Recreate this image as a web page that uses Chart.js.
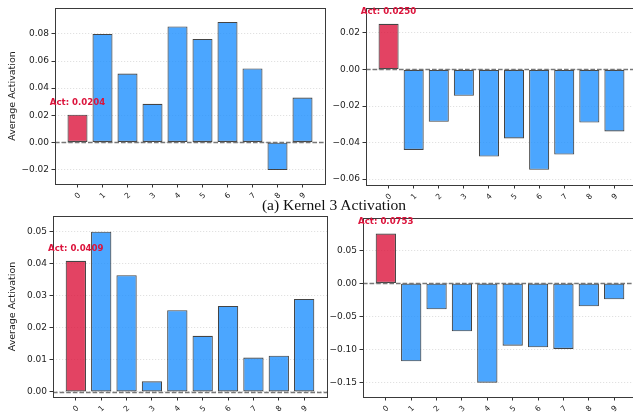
<!DOCTYPE html>
<html>
<head>
<meta charset="utf-8">
<script src="https://cdn.jsdelivr.net/npm/chart.js@4/dist/chart.umd.min.js"></script>
<style>
  html, body { margin: 0; padding: 0; background: #fff; overflow: hidden; width: 633px; height: 412px; }
  body { position: relative; }
  .panel { position: absolute; }
  .panel canvas { display: block; }
  #caption {
    position: absolute; left: 184px; width: 300px; top: 197px;
    text-align: center; font-family: 'Liberation Serif', 'Times New Roman', serif;
    font-size: 15.6px; line-height: 16px; color: #111; white-space: nowrap; z-index: 5;
  }
</style>
</head>
<body>
<div class="panel" style="left:0;top:0"><canvas id="kTopLeft" width="330" height="200"></canvas></div>
<div class="panel" style="left:310px;top:0"><canvas id="kTopRight" width="330" height="200"></canvas></div>
<div class="panel" style="left:0;top:206px"><canvas id="kBottomLeft" width="330" height="206"></canvas></div>
<div class="panel" style="left:310px;top:206px"><canvas id="kBottomRight" width="330" height="206"></canvas></div>
<div id="caption">(a) Kernel 3 Activation</div>
<script>
// Digit classes on the x axis
const digits = [0, 1, 2, 3, 4, 5, 6, 7, 8, 9];
const digitLabels = ['0', '1', '2', '3', '4', '5', '6', '7', '8', '9'];
// Class whose activation is highlighted and annotated
const targetIndex = 0;

// Average activation per digit, one array per panel
const actTopLeft     = [0.0204, 0.0800, 0.0508, 0.0284, 0.0856, 0.0763, 0.0889, 0.0545, -0.0205, 0.0330];
const actTopRight    = [0.0250, -0.0440, -0.0286, -0.0144, -0.0476, -0.0377, -0.0549, -0.0465, -0.0290, -0.0339];
const actBottomLeft  = [0.0409, 0.0500, 0.0364, 0.0033, 0.0255, 0.0175, 0.0268, 0.0107, 0.0113, 0.0290];
const actBottomRight = [0.0753, -0.1182, -0.0394, -0.0727, -0.1506, -0.0945, -0.0970, -0.0995, -0.0348, -0.0242];

// Y tick values and y limits per panel
const yTicksTopLeft     = [-0.02, 0.00, 0.02, 0.04, 0.06, 0.08];
const yTicksTopRight    = [-0.06, -0.04, -0.02, 0.00, 0.02];
const yTicksBottomLeft  = [0.00, 0.01, 0.02, 0.03, 0.04, 0.05];
const yTicksBottomRight = [-0.15, -0.10, -0.05, 0.00, 0.05];
const yRangeTopLeft     = [-0.0308, 0.0992];
const yRangeTopRight    = [-0.0632, 0.0337];
const yRangeBottomLeft  = [-0.0016, 0.0549];
const yRangeBottomRight = [-0.1723, 0.0989];
const xRange = [-0.9, 9.9];

const FONT = "'DejaVu Sans', 'Liberation Sans', sans-serif";
const RED = 'rgba(220, 20, 60, 0.8)';
const BLUE = 'rgba(30, 144, 255, 0.8)';

const fmtTick = v => v.toFixed(2).replace('-', '\u2212');

// Frame, dashed zero line and value annotation over the highlighted bar
const decorPlugin = {
  id: 'decor',
  afterDatasetsDraw(chart) {
    const { ctx, chartArea: a, scales: { y } } = chart;
    const y0 = Math.round(y.getPixelForValue(0)) + 0.5;
    ctx.save();
    ctx.strokeStyle = 'rgba(105, 105, 105, 0.9)';
    ctx.lineWidth = 1.3;
    ctx.setLineDash([4.6, 2]);
    ctx.beginPath();
    ctx.moveTo(a.left, y0);
    ctx.lineTo(a.right, y0);
    ctx.stroke();
    ctx.setLineDash([]);
    ctx.strokeStyle = '#3a3a3a';
    ctx.lineWidth = 1;
    ctx.strokeRect(Math.round(a.left) + 0.5, Math.round(a.top) + 0.5,
                   Math.round(a.right - a.left), Math.round(a.bottom - a.top));
    const el = chart.getDatasetMeta(0).data[targetIndex];
    const v = chart.data.datasets[0].data[targetIndex].y;
    ctx.fillStyle = '#DC143C';
    ctx.font = 'bold 8.6px ' + FONT;
    ctx.textAlign = 'center';
    ctx.textBaseline = 'middle';
    ctx.fillText('Act: ' + v.toFixed(4), el.x, el.y - 12);
    ctx.restore();
  }
};

function makePanel(id, values, yTicks, yRange, cfg) {
  const points = digits.map((d, i) => ({ x: d, y: values[i] }));
  return new Chart(document.getElementById(id), {
    type: 'bar',
    data: {
      datasets: [{
        data: points,
        backgroundColor: c => (c.dataIndex === targetIndex ? RED : BLUE),
        borderColor: 'rgba(35, 35, 35, 0.85)',
        borderWidth: 1.1,
        borderSkipped: false,
        barPercentage: 0.8,
        categoryPercentage: 1.0
      }]
    },
    options: {
      responsive: false,
      animation: false,
      events: [],
      layout: { autoPadding: false, padding: { top: cfg.top, right: cfg.right, bottom: 0, left: 0 } },
      plugins: { legend: { display: false }, tooltip: { enabled: false } },
      scales: {
        x: {
          type: 'linear',
          offset: false,
          min: xRange[0], max: xRange[1],
          afterBuildTicks: s => { s.ticks = digits.map(d => ({ value: d })); },
          afterFit: s => { s.height = cfg.xh; },
          ticks: {
            autoSkip: false, minRotation: 45, maxRotation: 45, padding: 3.5, labelOffset: 2,
            color: '#222', font: { family: FONT, size: 7.6 },
            callback: v => digitLabels[digits.indexOf(v)]
          },
          grid: { offset: false, drawOnChartArea: false, drawTicks: true, tickLength: 3.5, tickColor: '#333', tickWidth: 1 },
          border: { display: false }
        },
        y: {
          type: 'linear',
          min: yRange[0], max: yRange[1],
          afterBuildTicks: s => { s.ticks = yTicks.map(v => ({ value: v })); },
          afterFit: s => { s.width = cfg.yw; },
          ticks: { color: '#222', font: { family: FONT, size: 9 }, padding: 2.5, callback: v => fmtTick(v) },
          grid: { color: '#d9d9d9', lineWidth: 0.8, tickLength: 3.5, tickColor: '#333', tickWidth: 1, tickBorderDash: [] },
          border: { display: false, dash: [1.2, 1.8] },
          title: {
            display: !!cfg.title, text: cfg.title || '', color: '#222',
            font: { family: FONT, size: 9.5 }, padding: { top: 7, bottom: 0 }
          }
        }
      }
    },
    plugins: [decorPlugin]
  });
}

makePanel('kTopLeft', actTopLeft, yTicksTopLeft, yRangeTopLeft,
  { top: 8, right: 5, xh: 16, yw: 55, title: 'Average Activation' });
makePanel('kTopRight', actTopRight, yTicksTopRight, yRangeTopRight,
  { top: 7, right: 3, xh: 15, yw: 56 });
makePanel('kBottomLeft', actBottomLeft, yTicksBottomLeft, yRangeBottomLeft,
  { top: 10, right: 3, xh: 15, yw: 53, title: 'Average Activation' });
makePanel('kBottomRight', actBottomRight, yTicksBottomRight, yRangeBottomRight,
  { top: 12, right: 3, xh: 15, yw: 53 });
</script>
</body>
</html>
